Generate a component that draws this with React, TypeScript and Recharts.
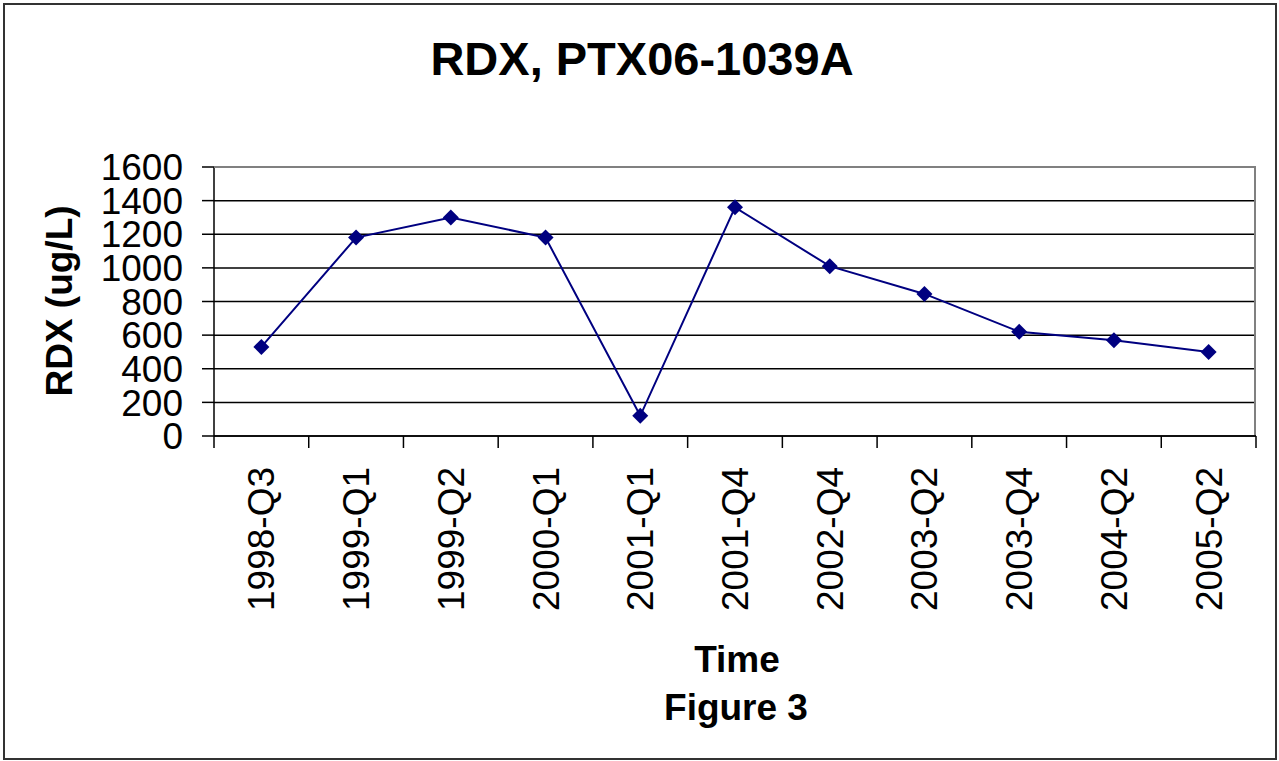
import React from "react"
import { LineChart, Line, CartesianGrid, XAxis, YAxis } from "recharts"

const quarters = [
    "1998-Q3", "1999-Q1", "1999-Q2", "2000-Q1", "2001-Q1", "2001-Q4",
    "2002-Q4", "2003-Q2", "2003-Q4", "2004-Q2", "2005-Q2",
]
const rdxValues = [530, 1180, 1300, 1180, 120, 1360, 1010, 845, 620, 570, 500]
const yTicks = [0, 200, 400, 600, 800, 1000, 1200, 1400, 1600]

const data = quarters.map((q, i) => ({ quarter: q, rdx: rdxValues[i] }))

const W = 1279
const H = 761
const PLOT_LEFT = 214
const PLOT_RIGHT = 1256
const PLOT_TOP = 167
const PLOT_BOTTOM = 436
const BAND = (PLOT_RIGHT - PLOT_LEFT) / quarters.length
const FONT = "Arial, 'Liberation Sans', sans-serif"
const NAVY = "#000080"

const QuarterTick = (props: any) => {
    const { x, y, payload, index } = props
    return (
        <g>
            <line x1={x - BAND / 2} x2={x - BAND / 2} y1={y} y2={y + 12} stroke="#000" strokeWidth={1.5} />
            {index === quarters.length - 1 && (
                <line x1={x + BAND / 2} x2={x + BAND / 2} y1={y} y2={y + 12} stroke="#000" strokeWidth={1.5} />
            )}
            <text
                transform={`translate(${x + 13}, ${y + 31}) rotate(-90)`}
                textAnchor="end"
                fontSize={37}
                fontFamily={FONT}
                fill="#000"
            >
                {payload.value}
            </text>
        </g>
    )
}

const Diamond = (props: any) => {
    const { cx, cy } = props
    if (cx == null || cy == null) return null
    const r = 8
    return <path d={`M${cx},${cy - r}L${cx + r},${cy}L${cx},${cy + r}L${cx - r},${cy}Z`} fill={NAVY} />
}

const App = () => {
    return (
        <div style={{ position: "absolute", left: 0, top: 0, width: W, height: H, background: "#fff" }}>
            <LineChart
                width={W}
                height={H}
                data={data}
                margin={{ top: PLOT_TOP, right: W - PLOT_RIGHT, left: PLOT_LEFT - 80, bottom: H - PLOT_BOTTOM - 180 }}
            >
                <CartesianGrid vertical={false} stroke="#000" strokeWidth={1.5} />
                <XAxis
                    dataKey="quarter"
                    height={180}
                    interval={0}
                    padding={{ left: BAND / 2, right: BAND / 2 }}
                    tickLine={false}
                    tickSize={0}
                    tickMargin={0}
                    tick={<QuarterTick />}
                    axisLine={{ stroke: "#000", strokeWidth: 1.5 }}
                />
                <YAxis
                    width={80}
                    domain={[0, 1600]}
                    ticks={yTicks}
                    interval={0}
                    tickSize={12}
                    tickMargin={19}
                    tickLine={{ stroke: "#000", strokeWidth: 1.5 }}
                    axisLine={{ stroke: "#000", strokeWidth: 1.5 }}
                    tick={{ fontSize: 37, fontFamily: FONT, fill: "#000" }}
                />
                <Line
                    type="linear"
                    dataKey="rdx"
                    stroke={NAVY}
                    strokeWidth={2}
                    dot={<Diamond />}
                    activeDot={false}
                    isAnimationActive={false}
                />
            </LineChart>
            <div
                style={{
                    position: "absolute",
                    left: PLOT_LEFT,
                    top: PLOT_TOP - 1,
                    width: PLOT_RIGHT - PLOT_LEFT,
                    height: PLOT_BOTTOM - PLOT_TOP,
                    borderTop: "2px solid #808080",
                    borderRight: "2px solid #808080",
                    boxSizing: "border-box",
                    pointerEvents: "none",
                }}
            />
            <svg width={W} height={H} style={{ position: "absolute", left: 0, top: 0, pointerEvents: "none" }}>
                <rect x={4} y={4} width={1272} height={755} fill="none" stroke="#333" strokeWidth={2} />
                <text x={642} y={75} textAnchor="middle" fontSize={47} fontWeight="bold" fontFamily={FONT}>
                    RDX, PTX06-1039A
                </text>
                <text
                    transform="translate(72, 301) rotate(-90)"
                    textAnchor="middle"
                    fontSize={37}
                    fontWeight="bold"
                    fontFamily={FONT}
                >
                    RDX (ug/L)
                </text>
                <text x={737} y={672} textAnchor="middle" fontSize={37} fontWeight="bold" fontFamily={FONT}>
                    Time
                </text>
                <text x={736} y={720} textAnchor="middle" fontSize={37} fontWeight="bold" fontFamily={FONT}>
                    Figure 3
                </text>
            </svg>
        </div>
    )
}

export default App
